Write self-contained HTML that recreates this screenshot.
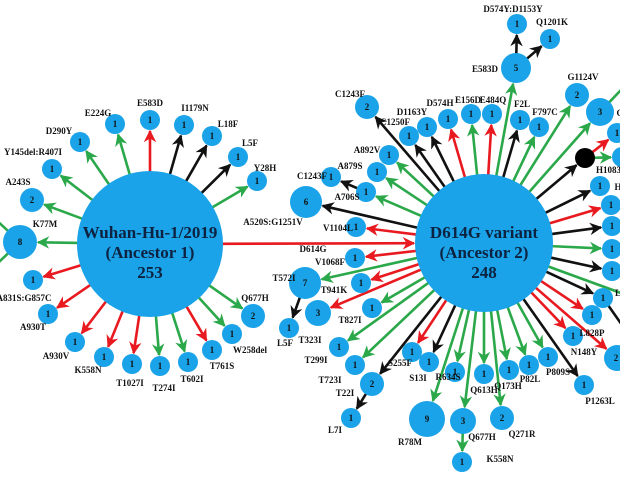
<!DOCTYPE html>
<html><head><meta charset="utf-8"><style>
html,body{margin:0;padding:0;background:#fff;width:620px;height:480px;overflow:hidden}
svg{display:block}
text{font-family:"Liberation Serif",serif;font-weight:bold;fill:#111;text-anchor:middle}
.l{font-size:9px}
.n{font-size:9px;dominant-baseline:central}
.c{font-size:17px;fill:#0d2240}
</style></head><body>
<svg id="s" width="620" height="480" viewBox="0 0 620 480">
<defs>
<marker id="mr" viewBox="0 0 10 10" refX="9" refY="5" markerWidth="4.8" markerHeight="4.8" orient="auto" markerUnits="strokeWidth"><path d="M0,0 L10,5 L0,10 L3,5z" fill="#e8191f"/></marker>
<marker id="mg" viewBox="0 0 10 10" refX="9" refY="5" markerWidth="4.8" markerHeight="4.8" orient="auto" markerUnits="strokeWidth"><path d="M0,0 L10,5 L0,10 L3,5z" fill="#2aa84a"/></marker>
<marker id="mk" viewBox="0 0 10 10" refX="9" refY="5" markerWidth="4.8" markerHeight="4.8" orient="auto" markerUnits="strokeWidth"><path d="M0,0 L10,5 L0,10 L3,5z" fill="#111"/></marker>
</defs>
<g id="edges"></g>
<g id="nodes" fill="#1aa3e8">
<circle cx="150" cy="244" r="73"/>
<circle cx="484" cy="243" r="69"/>
<circle cx="150" cy="120" r="10"/><circle cx="184" cy="125" r="10"/><circle cx="212" cy="136" r="10"/>
<circle cx="238" cy="157" r="10"/><circle cx="257" cy="181" r="10"/><circle cx="115" cy="124" r="10"/>
<circle cx="80" cy="142" r="10"/><circle cx="52" cy="169" r="10"/><circle cx="32" cy="200" r="12"/>
<circle cx="20" cy="242" r="17"/><circle cx="33" cy="280" r="10"/><circle cx="48" cy="314" r="10"/>
<circle cx="75" cy="342" r="10"/><circle cx="104" cy="357" r="10"/><circle cx="132" cy="364" r="10"/>
<circle cx="160" cy="366" r="10"/><circle cx="188" cy="362" r="10"/><circle cx="212" cy="350" r="10"/>
<circle cx="232" cy="334" r="10"/><circle cx="253" cy="316" r="12"/>
<circle cx="516" cy="68" r="15"/><circle cx="517" cy="24" r="10"/><circle cx="550" cy="39" r="10"/>
<circle cx="367" cy="107" r="12"/><circle cx="409" cy="136" r="10"/><circle cx="427" cy="127" r="10"/>
<circle cx="448" cy="119" r="10"/><circle cx="471" cy="114" r="10"/><circle cx="492" cy="114" r="10"/>
<circle cx="520" cy="120" r="10"/><circle cx="539" cy="127" r="10"/><circle cx="577" cy="95" r="12"/>
<circle cx="600" cy="112" r="14"/><circle cx="617" cy="133" r="10"/><circle cx="622" cy="157" r="10"/>
<circle cx="389" cy="155" r="10"/><circle cx="377" cy="172" r="10"/><circle cx="366" cy="192" r="10"/>
<circle cx="331" cy="177" r="10"/><circle cx="306" cy="202" r="16"/><circle cx="356" cy="227" r="10"/>
<circle cx="355" cy="258" r="10"/><circle cx="305" cy="283" r="16"/><circle cx="289" cy="328" r="10"/>
<circle cx="361" cy="283" r="10"/><circle cx="318" cy="313" r="13"/><circle cx="372" cy="308" r="10"/>
<circle cx="339" cy="347" r="10"/><circle cx="355" cy="365" r="10"/><circle cx="372" cy="384" r="12"/>
<circle cx="351" cy="418" r="10"/><circle cx="412" cy="352" r="10"/><circle cx="429" cy="362" r="10"/>
<circle cx="427" cy="419" r="18"/><circle cx="455" cy="372" r="10"/><circle cx="463" cy="421" r="13"/>
<circle cx="462" cy="462" r="10"/><circle cx="484" cy="374" r="10"/><circle cx="502" cy="418" r="12"/>
<circle cx="509" cy="370" r="10"/><circle cx="529" cy="365" r="10"/><circle cx="548" cy="357" r="10"/>
<circle cx="584" cy="385" r="10"/><circle cx="573" cy="336" r="10"/><circle cx="592" cy="315" r="10"/>
<circle cx="617" cy="358" r="13"/><circle cx="603" cy="298" r="10"/>
<circle cx="600" cy="186" r="10"/><circle cx="611" cy="205" r="10"/><circle cx="612" cy="226" r="10"/>
<circle cx="612" cy="249" r="10"/><circle cx="612" cy="271" r="10"/>
<circle cx="585" cy="158" r="10" fill="#000"/>
</g>
<g>
<text class="c" x="150" y="238">Wuhan-Hu-1/2019</text>
<text class="c" x="150" y="258">(Ancestor 1)</text>
<text class="c" x="150" y="278">253</text>
<text class="c" x="484" y="238">D614G variant</text>
<text class="c" x="484" y="258">(Ancestor 2)</text>
<text class="c" x="484" y="278">248</text>
</g>
<g>
<text class="n" x="150" y="120">1</text><text class="n" x="184" y="125">1</text><text class="n" x="212" y="136">1</text>
<text class="n" x="238" y="157">1</text><text class="n" x="257" y="181">1</text><text class="n" x="115" y="124">1</text>
<text class="n" x="80" y="142">1</text><text class="n" x="52" y="169">1</text><text class="n" x="32" y="200">2</text>
<text class="n" x="20" y="242">8</text><text class="n" x="33" y="280">1</text><text class="n" x="48" y="314">1</text>
<text class="n" x="75" y="342">1</text><text class="n" x="104" y="357">1</text><text class="n" x="132" y="364">1</text>
<text class="n" x="160" y="366">1</text><text class="n" x="188" y="362">1</text><text class="n" x="212" y="350">1</text>
<text class="n" x="232" y="334">1</text><text class="n" x="253" y="316">2</text>
<text class="n" x="516" y="68">5</text><text class="n" x="517" y="24">1</text><text class="n" x="550" y="39">1</text>
<text class="n" x="367" y="107">2</text><text class="n" x="409" y="136">1</text><text class="n" x="427" y="127">1</text>
<text class="n" x="448" y="119">1</text><text class="n" x="471" y="114">1</text><text class="n" x="492" y="114">1</text>
<text class="n" x="520" y="120">1</text><text class="n" x="539" y="127">1</text><text class="n" x="577" y="95">2</text>
<text class="n" x="600" y="112">3</text><text class="n" x="617" y="133">1</text>
<text class="n" x="389" y="155">1</text><text class="n" x="377" y="172">1</text><text class="n" x="366" y="192">1</text>
<text class="n" x="331" y="177">1</text><text class="n" x="306" y="202">6</text><text class="n" x="356" y="227">1</text>
<text class="n" x="355" y="258">1</text><text class="n" x="305" y="283">7</text><text class="n" x="289" y="328">1</text>
<text class="n" x="361" y="283">1</text><text class="n" x="318" y="313">3</text><text class="n" x="372" y="308">1</text>
<text class="n" x="339" y="347">1</text><text class="n" x="355" y="365">1</text><text class="n" x="372" y="384">2</text>
<text class="n" x="351" y="418">1</text><text class="n" x="412" y="352">1</text><text class="n" x="429" y="362">1</text>
<text class="n" x="427" y="419">9</text><text class="n" x="455" y="372">1</text><text class="n" x="463" y="421">3</text>
<text class="n" x="462" y="462">1</text><text class="n" x="484" y="374">1</text><text class="n" x="502" y="418">2</text>
<text class="n" x="509" y="370">1</text><text class="n" x="529" y="365">1</text><text class="n" x="548" y="357">1</text>
<text class="n" x="584" y="385">1</text><text class="n" x="573" y="336">1</text><text class="n" x="592" y="315">1</text>
<text class="n" x="616" y="358">2</text><text class="n" x="603" y="298">1</text>
<text class="n" x="600" y="186">1</text><text class="n" x="611" y="205">1</text><text class="n" x="612" y="226">1</text>
<text class="n" x="612" y="249">1</text><text class="n" x="612" y="271">1</text>
</g>
<g>
<text class="l" x="150" y="106">E583D</text><text class="l" x="195" y="111">I1179N</text><text class="l" x="228" y="127">L18F</text>
<text class="l" x="250" y="146">L5F</text><text class="l" x="265" y="171">Y28H</text><text class="l" x="98" y="116">E224G</text>
<text class="l" x="59" y="134">D290Y</text><text class="l" x="33" y="155">Y145del:R407I</text><text class="l" x="18" y="185">A243S</text>
<text class="l" x="45" y="227">K77M</text><text class="l" x="24" y="301">A831S:G857C</text><text class="l" x="33" y="330">A930T</text>
<text class="l" x="56" y="359">A930V</text><text class="l" x="88" y="373">K558N</text><text class="l" x="130" y="386">T1027I</text>
<text class="l" x="164" y="391">T274I</text><text class="l" x="192" y="382">T602I</text><text class="l" x="222" y="369">T761S</text>
<text class="l" x="250" y="353">W258del</text><text class="l" x="255" y="301">Q677H</text><text class="l" x="273" y="225">A520S:G1251V</text>
<text class="l" x="513" y="12">D574Y:D1153Y</text><text class="l" x="552" y="25">Q1201K</text><text class="l" x="485" y="72">E583D</text>
<text class="l" x="350" y="97">C1243F</text><text class="l" x="395" y="125">C1250F</text><text class="l" x="412" y="115">D1163Y</text>
<text class="l" x="440" y="106">D574H</text><text class="l" x="468" y="103">E156D</text><text class="l" x="493" y="103">E484Q</text>
<text class="l" x="522" y="107">F2L</text><text class="l" x="545" y="115">F797C</text><text class="l" x="583" y="80">G1124V</text>
<text class="l" x="620" y="116">G</text><text class="l" x="612" y="173">H1083Q</text>
<text class="l" x="367" y="153">A892V</text><text class="l" x="350" y="169">A879S</text><text class="l" x="347" y="200">A706S</text>
<text class="l" x="312" y="179">C1243F</text><text class="l" x="338" y="231">V1104L</text><text class="l" x="313" y="252">D614G</text>
<text class="l" x="330" y="265">V1068F</text><text class="l" x="284" y="281">T572I</text><text class="l" x="285" y="346">L5F</text>
<text class="l" x="334" y="293">T941K</text><text class="l" x="310" y="343">T323I</text><text class="l" x="350" y="323">T827I</text>
<text class="l" x="316" y="363">T299I</text><text class="l" x="330" y="383">T723I</text><text class="l" x="345" y="396">T22I</text>
<text class="l" x="335" y="433">L7I</text><text class="l" x="400" y="366">S255F</text><text class="l" x="418" y="381">S13I</text>
<text class="l" x="410" y="445">R78M</text><text class="l" x="448" y="380">R634S</text><text class="l" x="482" y="440">Q677H</text>
<text class="l" x="500" y="462">K558N</text><text class="l" x="484" y="393">Q613H</text><text class="l" x="522" y="437">Q271R</text>
<text class="l" x="508" y="389">Q173H</text><text class="l" x="530" y="382">P82L</text><text class="l" x="558" y="375">P809S</text>
<text class="l" x="600" y="404">P1263L</text><text class="l" x="584" y="355">N148Y</text><text class="l" x="592" y="336">L828P</text>
<text class="l" x="618" y="296">L</text><text class="l" x="618" y="190">H</text>
</g>
</svg>
<script>
(function(){
var R={r:"#e8191f",g:"#2aa84a",k:"#111"},M={r:"mr",g:"mg",k:"mk"};
var W=[150,244,73],D=[484,243,69];
var E=[
[W,150,120,10,"r"],[W,184,125,10,"k"],[W,212,136,10,"k"],[W,238,157,10,"k"],[W,257,181,10,"g"],
[W,115,124,10,"g"],[W,80,142,10,"g"],[W,52,169,10,"g"],[W,32,200,12,"g"],[W,20,242,17,"g"],
[W,33,280,10,"r"],[W,48,314,10,"r"],[W,75,342,10,"r"],[W,104,357,10,"r"],[W,132,364,10,"r"],
[W,160,366,10,"g"],[W,188,362,10,"g"],[W,212,350,10,"r"],[W,232,334,10,"g"],[W,253,316,12,"g"],
[W,484,243,69,"r"],
[D,516,68,15,"g"],[[516,68,15],517,24,10,"k"],[[516,68,15],550,39,10,"k"],
[D,367,107,12,"k"],[D,409,136,10,"k"],[D,427,127,10,"k"],[D,448,119,10,"r"],[D,471,114,10,"g"],
[D,492,114,10,"r"],[D,520,120,10,"k"],[D,539,127,10,"g"],[D,577,95,12,"g"],[D,600,112,14,"g"],
[[600,112,14],640,70,0,"g"],[D,585,158,10,"k"],[[585,158,10],617,133,10,"r"],[[585,158,10],622,157,10,"g"],
[D,389,155,10,"g"],[D,377,172,10,"g"],[D,366,192,10,"g"],[[366,192,10],331,177,10,"k"],[D,306,202,16,"k"],
[D,356,227,10,"r"],[D,355,258,10,"r"],[D,305,283,16,"g"],[[305,283,16],289,328,10,"k"],[D,361,283,10,"r"],
[D,318,313,13,"r"],[D,372,308,10,"g"],[D,339,347,10,"g"],[D,355,365,10,"g"],[D,372,384,12,"k"],
[[372,384,12],351,418,10,"k"],[D,412,352,10,"r"],[D,429,362,10,"k"],[D,427,419,18,"g"],[D,455,372,10,"g"],
[D,463,421,13,"g"],[[463,421,13],462,462,10,"g"],[D,484,374,10,"g"],[D,502,418,12,"g"],[D,509,370,10,"g"],
[D,529,365,10,"g"],[D,548,357,10,"g"],[D,584,385,10,"k"],[D,573,336,10,"r"],[D,592,315,10,"r"],
[D,617,358,13,"r"],[D,603,298,10,"k"],[[603,298,10],622,325,0,"k"],
[D,600,186,10,"k"],[D,611,205,10,"r"],[D,612,226,10,"k"],[D,612,249,10,"g"],[D,612,271,10,"k"],
[D,640,300,0,"g"],[[20,242,17],-20,205,0,"g"],[[20,242,17],-20,280,0,"g"]
];
var g=document.getElementById("edges"),ns="http://www.w3.org/2000/svg";
E.forEach(function(e){
 var p=e[0],x=e[1],y=e[2],r=e[3],c=e[4];
 var dx=x-p[0],dy=y-p[1],L=Math.sqrt(dx*dx+dy*dy),ux=dx/L,uy=dy/L;
 var l=document.createElementNS(ns,"line");
 l.setAttribute("x1",p[0]+ux*(p[2]-2));l.setAttribute("y1",p[1]+uy*(p[2]-2));
 l.setAttribute("x2",x-ux*(r+1));l.setAttribute("y2",y-uy*(r+1));
 l.setAttribute("stroke",R[c]);l.setAttribute("stroke-width","2.6");
 if(r>0)l.setAttribute("marker-end","url(#"+M[c]+")");
 g.appendChild(l);
});
})();
</script>
</body></html>
